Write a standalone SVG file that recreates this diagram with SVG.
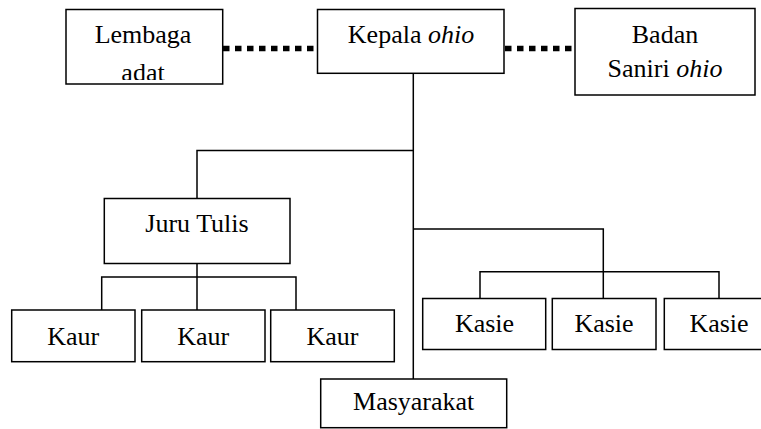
<svg xmlns="http://www.w3.org/2000/svg" width="761" height="429" viewBox="0 0 761 429">
<style>
.box{fill:#fff;stroke:#000;stroke-width:1.5}
.ln{fill:none;stroke:#000;stroke-width:1.5}
.dot{fill:none;stroke:#000;stroke-width:5.5;stroke-dasharray:6.5 5.5}
.t{font-family:'Liberation Serif','Times New Roman',serif;font-size:26px;fill:#000;text-anchor:middle}
.it{font-style:italic}
</style>
<defs>
<clipPath id="clipL"><rect x="66" y="10" width="157" height="70"/></clipPath>
</defs>
<rect width="761" height="429" fill="#fff"/>
<g id="connectors">
<line class="dot" x1="223" y1="48.5" x2="317" y2="48.5"/>
<line class="dot" x1="505" y1="48.5" x2="575" y2="48.5"/>
<path class="ln" d="M413.3 73V379"/>
<path class="ln" d="M413.3 150.5H197V198.5"/>
<path class="ln" d="M197 263.5V277M101.7 310V277H296V310M197 277V310"/>
<path class="ln" d="M413.3 229H603.3V298.5"/>
<path class="ln" d="M480 298.5V271.7H719V298.5"/>
</g>
<g id="lembaga">
<rect class="box" x="66" y="9.5" width="156.7" height="74.5"/>
<g clip-path="url(#clipL)">
<text class="t" x="143" y="43">Lembaga</text>
<text class="t" x="143" y="81">adat</text>
</g>
</g>
<g id="kepala">
<rect class="box" x="317.5" y="9.5" width="186.5" height="63.8"/>
<text class="t" x="411" y="43">Kepala <tspan class="it">ohio</tspan></text>
</g>
<g id="badan">
<rect class="box" x="575" y="8.5" width="180" height="86.5"/>
<text class="t" x="665" y="43">Badan</text>
<text class="t" x="665" y="77">Saniri <tspan class="it">ohio</tspan></text>
</g>
<g id="juru-tulis">
<rect class="box" x="104.3" y="198.5" width="185.7" height="65"/>
<text class="t" x="197" y="231.5">Juru Tulis</text>
</g>
<g id="kaur1">
<rect class="box" x="11.7" y="310" width="123.3" height="51.7"/>
<text class="t" x="73.3" y="345">Kaur</text>
</g>
<g id="kaur2">
<rect class="box" x="141.7" y="310" width="123.3" height="51.7"/>
<text class="t" x="203.3" y="345">Kaur</text>
</g>
<g id="kaur3">
<rect class="box" x="270.7" y="310" width="123.6" height="51.7"/>
<text class="t" x="332.5" y="345">Kaur</text>
</g>
<g id="kasie1">
<rect class="box" x="422.7" y="298.5" width="123" height="51"/>
<text class="t" x="484.5" y="331.5">Kasie</text>
</g>
<g id="kasie2">
<rect class="box" x="552.3" y="298.5" width="103.7" height="51"/>
<text class="t" x="604" y="331.5">Kasie</text>
</g>
<g id="kasie3">
<rect class="box" x="664.3" y="298.5" width="110" height="51"/>
<text class="t" x="719" y="331.5">Kasie</text>
</g>
<g id="masyarakat">
<rect class="box" x="320.7" y="379" width="186" height="48.7"/>
<text class="t" x="413.7" y="409.5">Masyarakat</text>
</g>
</svg>
